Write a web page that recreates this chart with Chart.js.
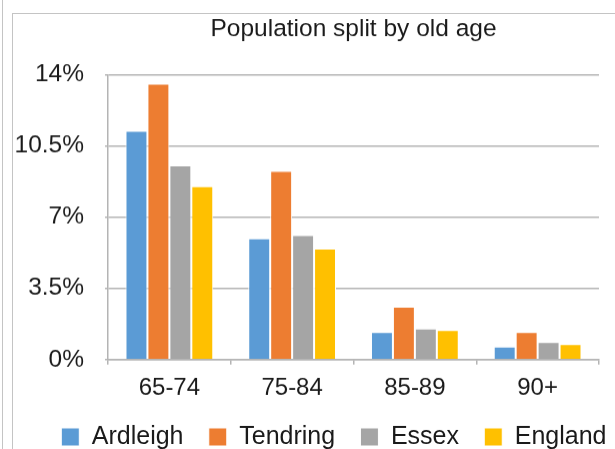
<!DOCTYPE html>
<html>
<head>
<meta charset="utf-8">
<script src="https://cdn.jsdelivr.net/npm/chart.js@4/dist/chart.umd.min.js"></script>
<style>
  html, body { margin: 0; padding: 0; background: #fff; overflow: hidden; width: 615px; height: 449px; }
  #vline { position: absolute; left: 2px; top: 0; width: 1px; height: 449px; background: #c4c4c4; }
  #frame { position: absolute; left: 12px; top: 13px; width: 620px; height: 460px; border-left: 1px solid #c4c4c4; border-top: 1px solid #c4c4c4; }
  #wrap { position: absolute; left: 0; top: 0; width: 615px; height: 458.5px; }
</style>
</head>
<body>
<div id="vline"></div>
<div id="frame"></div>
<div id="wrap"><canvas id="c"></canvas></div>
<script>
const categories = ['65-74', '75-84', '85-89', '90+'];
const seriesNames = ['Ardleigh', 'Tendring', 'Essex', 'England'];
const ardleigh = [11.24, 5.95, 1.35, 0.64];
const tendring = [13.55, 9.26, 2.6, 1.35];
const essex = [9.54, 6.12, 1.52, 0.86];
const england = [8.52, 5.45, 1.45, 0.76];
const yTickValues = [0, 3.5, 7, 10.5, 14];
const yTickLabels = ['0%', '3.5%', '7%', '10.5%', '14%'];
const titleText = 'Population split by old age';

const colors = ['#5B9BD5', '#ED7D31', '#A5A5A5', '#FFC000'];
const values = [ardleigh, tendring, essex, england];

const FONT = '"Liberation Sans", Arial, Helvetica, sans-serif';
const gridColor = '#b4b4b4';
const textColor = '#1a1a1a';

new Chart(document.getElementById('c'), {
  type: 'bar',
  data: {
    labels: categories,
    datasets: seriesNames.map((n, i) => ({
      label: n,
      data: values[i],
      backgroundColor: colors[i],
      borderColor: '#ffffff',
      borderWidth: 1,
      borderSkipped: 'bottom',
      categoryPercentage: 0.715,
      barPercentage: 1.0,
      yAxisID: 'y'
    }))
  },
  options: {
    responsive: true,
    maintainAspectRatio: false,
    animation: false,
    layout: { padding: { left: 12, right: -16.75, top: 8, bottom: 0 } },
    plugins: {
      title: {
        display: true,
        fullSize: false,
        text: titleText,
        color: textColor,
        font: { family: FONT, size: 24.5, weight: 'normal' },
        padding: { top: 6.3, bottom: 30.6 }
      },
      legend: {
        position: 'bottom',
        align: 'end',
        labels: {
          color: textColor,
          font: { family: FONT, size: 25 },
          boxWidth: 18,
          boxHeight: 18,
          padding: 25.25
        }
      },
      tooltip: { enabled: false }
    },
    scales: {
      x: {
        afterFit: (scale) => { scale.height -= 13.5; },
        grid: { display: true, drawOnChartArea: false, drawTicks: true, tickLength: 5, color: gridColor, lineWidth: 1.5 },
        border: { color: gridColor, width: 1.5 },
        ticks: { color: textColor, font: { family: FONT, size: 24 }, padding: 9.6 }
      },
      y: {
        position: 'left',
        min: 0,
        max: 14,
        afterFit: (scale) => { scale.width = 96; },
        afterBuildTicks: (axis) => { axis.ticks = yTickValues.map(v => ({ value: v })); },
        grid: { color: gridColor, lineWidth: 1.5, tickLength: 3 },
        border: { display: true, color: gridColor, width: 1.5 },
        ticks: {
          color: textColor,
          font: { family: FONT, size: 24.5 },
          padding: 21,
          callback: (v) => yTickLabels[yTickValues.indexOf(v)]
        }
      },
      yRightSpace: {
        type: 'linear',
        position: 'right',
        display: true,
        afterFit: (scale) => { scale.width = 32.75; },
        grid: { display: false, drawTicks: false },
        border: { display: false },
        ticks: { display: false }
      }
    }
  }
});
</script>
</body>
</html>
